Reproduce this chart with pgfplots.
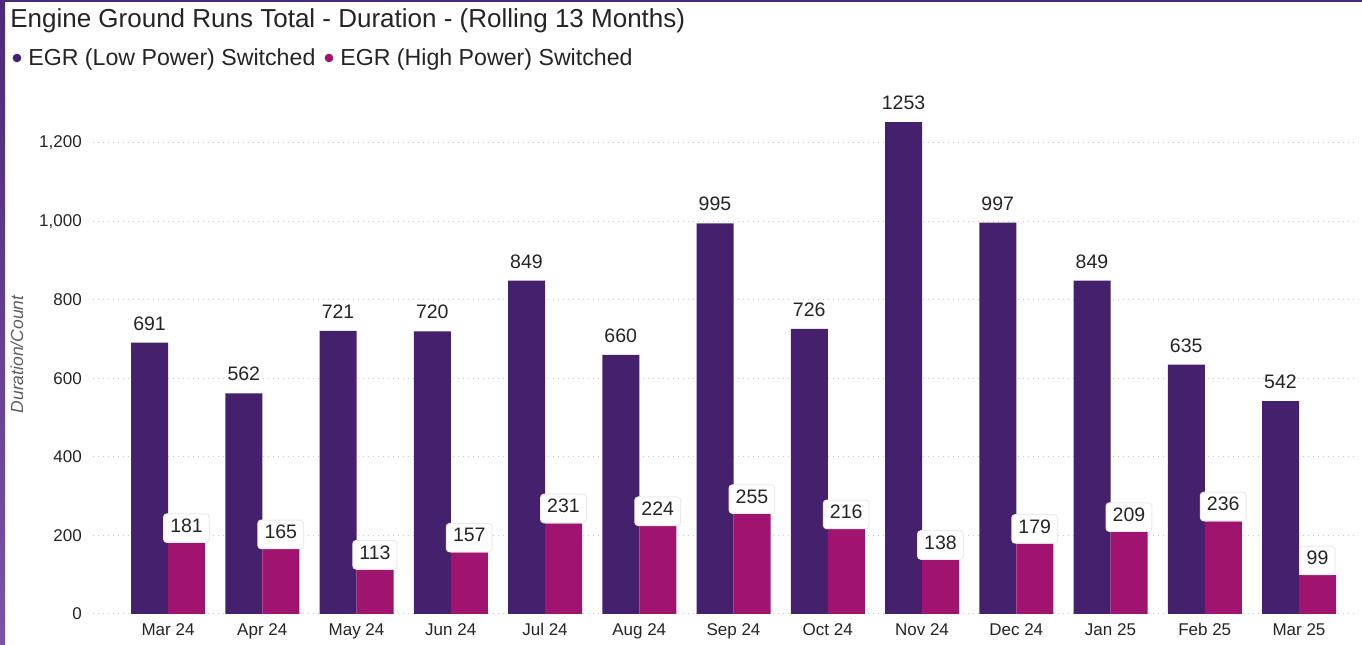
\documentclass[border=0pt]{standalone}
\usepackage{pgfplots}
\pgfplotsset{compat=1.18}
\usepackage{fontspec}
\setmainfont{Liberation Sans}
\definecolor{lowc}{HTML}{45206C}
\definecolor{highc}{HTML}{A0146F}
\definecolor{txt}{HTML}{252423}
\definecolor{gridc}{HTML}{C8C8C8}
\definecolor{ylab}{HTML}{605E5C}
\definecolor{bordtop}{HTML}{4A2A7A}
\definecolor{bordbot}{HTML}{7B52A8}
\pgfplotstableread{
x low high
0 691 181
1 562 165
2 721 113
3 720 157
4 849 231
5 660 224
6 995 255
7 726 216
8 1253 138
9 997 179
10 849 209
11 635 236
12 542 99
}\egrdata
\begin{document}
\begin{tikzpicture}
\path[use as bounding box] (0,0) rectangle (817.2pt,-387pt);
\shade[top color=bordtop, bottom color=bordbot] (0,0) rectangle (3pt,-387pt);
\fill[bordtop] (0,0) rectangle (817.2pt,-1.2pt);
\node[anchor=base west, font=\fontsize{15.6pt}{17pt}\selectfont, text=txt, inner sep=0pt] at (6pt,-16.8pt) {Engine Ground Runs Total - Duration - (Rolling 13 Months)};
\fill[lowc] (10.2pt,-34.8pt) circle (2.6pt);
\node[anchor=base west, font=\fontsize{13.9pt}{16pt}\selectfont, text=txt, inner sep=0pt] at (16.8pt,-39.6pt) {EGR (Low Power) Switched};
\fill[highc] (197.4pt,-34.8pt) circle (2.6pt);
\node[anchor=base west, font=\fontsize{13.9pt}{16pt}\selectfont, text=txt, inner sep=0pt] at (204pt,-39.6pt) {EGR (High Power) Switched};
\begin{axis}[
  at={(55.8pt,-368.4pt)}, anchor=south west,
  scale only axis, width=759pt, height=311.4pt,
  ybar=0pt, bar width=22.2pt,
  xmin=-0.796, xmax=12.626, ymin=0, ymax=1322,
  xtick=data,
  xticklabels={Mar 24,Apr 24,May 24,Jun 24,Jul 24,Aug 24,Sep 24,Oct 24,Nov 24,Dec 24,Jan 25,Feb 25,Mar 25},
  ytick={0,200,...,1200},
  ymajorgrids,
  grid style={gridc, line width=0.6pt, dash pattern=on 0.8pt off 2.2pt},
  axis line style={draw=none},
  major tick length=0pt,
  tick label style={font=\fontsize{10.2pt}{12pt}\selectfont, text=txt},
  /pgf/number format/assume math mode=true,
  yticklabel style={xshift=-3.2pt},
  xticklabel style={yshift=-2pt},
  ylabel={Duration/Count},
  ylabel style={at={(axis description cs:-0.0601,0.5)}, anchor=center, font=\fontsize{10.5pt}{12pt}\selectfont\itshape, text=ylab},
  nodes near coords={\pgfmathprintnumber[1000 sep={},assume math mode=true]{\pgfplotspointmeta}},
]
\addplot+[fill=lowc, draw=none,
  every node near coord/.append style={font=\fontsize{11.7pt}{13pt}\selectfont, text=txt, yshift=3.9pt}]
  table[x=x, y=low] {\egrdata};
\addplot+[fill=highc, draw=none,
  every node near coord/.append style={font=\fontsize{11.7pt}{13pt}\selectfont, text=txt, fill=white, draw=black!8, line width=0.6pt, rounded corners=2pt, inner xsep=4pt, inner ysep=3pt, text depth=3pt}]
  table[x=x, y=high] {\egrdata};
\end{axis}
\end{tikzpicture}
\end{document}
